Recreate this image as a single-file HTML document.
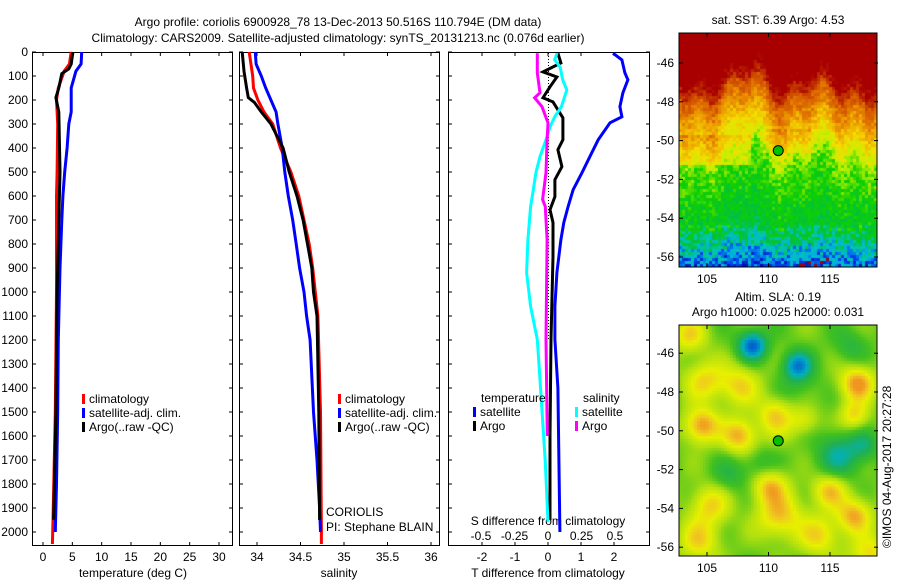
<!DOCTYPE html>
<html><head><meta charset="utf-8">
<style>
body{margin:0;background:#fff;}
#wrap{position:relative;width:900px;height:580px;overflow:hidden;background:#fff;font-family:"Liberation Sans",sans-serif;}
svg text{font-family:"Liberation Sans",sans-serif;font-size:12px;fill:#000;}
canvas{position:absolute;}
</style></head>
<body>
<div id="wrap">
<canvas id="map1" width="198" height="234" style="left:679px;top:33px"></canvas>
<canvas id="map2" width="198" height="231" style="left:679px;top:325px"></canvas>
<svg id="svg" width="900" height="580" style="position:absolute;left:0;top:0"></svg>
</div>
<script>
// ---------- data ----------
const tClimDepth=[0,50,80,150,200,300,500,600,1000,1500,1950,2050];
const tClimVal=[4.8,4.5,3.6,2.6,2.3,2.5,2.4,2.3,2.3,2.1,1.7,1.6];
const tSatDepth=[0,50,80,150,250,300,400,500,600,700,900,1200,1500,1800,2000];
const tSatVal=[6.6,6.5,5.6,4.8,4.8,4.4,4.1,3.7,3.4,3.2,2.9,2.6,2.5,2.3,2.1];
const tArgoDepth=[0,50,70,90,150,190,250,500,700,1000,1500,1750,1950];
const tArgoVal=[5.1,4.8,4.4,3.2,2.7,2.2,2.7,2.9,2.7,2.4,2.2,2.0,1.8];
const sClimDepth=[0,100,150,200,250,300,400,500,600,700,800,900,1000,1100,1500,2000,2050];
const sClimVal=[33.91,33.95,33.96,34.01,34.08,34.18,34.27,34.39,34.48,34.54,34.6,34.64,34.67,34.70,34.73,34.74,34.74];
const sSatDepth=[0,50,100,150,200,250,300,400,500,600,700,800,900,1000,1100,1200,1500,1700,1900,2000];
const sSatVal=[33.98,33.99,34.05,34.1,34.16,34.22,34.24,34.29,34.32,34.36,34.41,34.45,34.49,34.54,34.57,34.61,34.65,34.69,34.72,34.73];
const sArgoDepth=[0,80,150,190,210,250,300,350,400,500,600,700,800,900,1000,1100,1500,1950];
const sArgoVal=[33.83,33.85,33.88,33.9,33.97,34.05,34.16,34.23,34.3,34.37,34.46,34.53,34.58,34.63,34.65,34.69,34.71,34.72];
const dTSatDepth=[5,33,87,116,170,228,270,295,366,436,503,574,644,711,782,919,1060,1198,1400,1700,2000];
const dTSatVal=[1.97,2.24,2.33,2.42,2.27,2.18,2.24,1.88,1.52,1.27,1.03,0.76,0.61,0.48,0.39,0.27,0.21,0.21,0.3,0.33,0.36];
const dTArgoDepth=[5,46,83,104,145,191,208,241,274,366,407,478,532,603,657,711,852,1198,1600,1950];
const dTArgoVal=[0.3,0.39,-0.15,0.27,0.06,-0.15,0.15,0.3,0.45,0.45,0.3,0.42,0.21,0.21,0.06,0.15,0.15,0.09,0.06,0.06];
const dSSatDepth=[5,33,62,116,158,228,270,312,366,436,503,574,644,782,919,1060,1198,1364,1709,1958];
const dSSatVal=[0.067,0.05,0.09,0.11,0.14,0.1,0.05,0.015,-0.015,-0.06,-0.09,-0.11,-0.13,-0.15,-0.16,-0.13,-0.08,-0.06,-0.02,0.0];
const dSArgoDepth=[5,87,170,191,228,295,366,503,615,644,782,1198,1600];
const dSArgoVal=[-0.08,-0.08,-0.06,-0.1,-0.045,0,-0.007,-0.015,-0.04,-0.02,-0.007,-0.015,-0.005];
const depthTicks=[0,100,200,300,400,500,600,700,800,900,1000,1100,1200,1300,1400,1500,1600,1700,1800,1900,2000];
const tTicks=[0,5,10,15,20,25,30];
const sTicks=[34,34.5,35,35.5,36];
const sTickLabels=["34","34.5","35","35.5","36"];
const dTTicks=[-2,-1,0,1,2];
const dSTicks=[-0.5,-0.25,0,0.25,0.5];
const dSTickLabels=["-0.5","-0.25","0","0.25","0.5"];
const latTicks=[-46,-48,-50,-52,-54,-56];
const lonTicks=[105,110,115];
const argoLon=110.794, argoLat=-50.516;

// ---------- axes ----------
const Y=d=>52+d*0.24;
const xT=v=>43+v*(176/30);
const xS=v=>257+(v-34)*87;
const xDT=v=>548+v*33;
const xDS=v=>548+v*134;
const lonX1=l=>707+(l-105)*12.3;
const latY1=l=>63+(-46-l)*19.4;
const latY2=l=>392+(-48-l)*19.4;

const svg=document.getElementById('svg');
const NS='http://www.w3.org/2000/svg';
function mk(tag,at,name,parent){const e=document.createElementNS(NS,tag);for(const k in at)e.setAttribute(k,at[k]);


(parent||svg).appendChild(e);return e;}
function txt(x,y,s,name,anchor){const t=mk('text',{x:x,y:y,'text-anchor':anchor||'start'},name);t.textContent=s;return t;}
function line(x1,y1,x2,y2,name,w,c,dash){const a={x1:x1,y1:y1,x2:x2,y2:y2,stroke:c||'#000','stroke-width':w||1};if(dash)a['stroke-dasharray']=dash;return mk('line',a,name);}

const panels=[[32,232,'temperature-panel'],[239,439,'salinity-panel'],[448,649,'difference-panel']];
panels.forEach(p=>{
  mk('rect',{x:p[0]+0.5,y:52.5,width:p[1]-p[0],height:493,fill:'none',stroke:'#000','stroke-width':1},p[2]+'-frame');
  depthTicks.forEach(d=>{line(p[0],Y(d),p[0]+4,Y(d),'depth-tick');line(p[1]-3,Y(d),p[1]+1,Y(d),'depth-tick');});
});
depthTicks.forEach(d=>txt(28,Y(d)+4,String(d),'depth-tick-label','end'));
tTicks.forEach(v=>{line(xT(v),52,xT(v),56,'x-tick');line(xT(v),542,xT(v),546,'x-tick');txt(xT(v),561,String(v),'temperature-tick-label','middle');});
txt(133,577,'temperature (deg C)','temperature-axis-title','middle');
sTicks.forEach((v,i)=>{line(xS(v),52,xS(v),56,'x-tick');line(xS(v),542,xS(v),546,'x-tick');txt(xS(v),561,sTickLabels[i],'salinity-tick-label','middle');});
txt(339,577,'salinity','salinity-axis-title','middle');
dTTicks.forEach(v=>{line(xDT(v),52,xDT(v),56,'x-tick');line(xDT(v),542,xDT(v),546,'x-tick');txt(xDT(v),561,String(v),'t-diff-tick-label','middle');});
txt(548,577,'T difference from climatology','t-diff-axis-title','middle');
dSTicks.forEach((v,i)=>txt(xDS(v),540,dSTickLabels[i],'s-diff-tick-label','middle'));
txt(548,525,'S difference from climatology','s-diff-axis-title','middle');
line(548.5,53,548.5,340,'zero-line',1,'#000','1,2');

function prof(ds,vs,fx,c,name,w){const pts=ds.map((d,i)=>fx(vs[i]).toFixed(1)+','+Y(d).toFixed(1)).join(' ');
mk('polyline',{points:pts,fill:'none',stroke:c,'stroke-width':w||3},name);}
prof(tClimDepth,tClimVal,xT,'#f00','temp-climatology-line');
prof(tSatDepth,tSatVal,xT,'#00f','temp-satellite-line');
prof(tArgoDepth,tArgoVal,xT,'#000','temp-argo-line');
prof(sClimDepth,sClimVal,xS,'#f00','sal-climatology-line');
prof(sSatDepth,sSatVal,xS,'#00f','sal-satellite-line');
prof(sArgoDepth,sArgoVal,xS,'#000','sal-argo-line');
prof(dTSatDepth,dTSatVal,xDT,'#00f','tdiff-satellite-line');
prof(dTArgoDepth,dTArgoVal,xDT,'#000','tdiff-argo-line');
prof(dSSatDepth,dSSatVal,xDS,'#0ff','sdiff-satellite-line');
prof(dSArgoDepth,dSArgoVal,xDS,'#f0f','sdiff-argo-line');

function leg(x,y,c,s,name){mk('rect',{x:x,y:y-9,width:3,height:10,fill:c},name+'-swatch');txt(x+7,y,s,name);}
[[82,'panel1'],[338,'panel2']].forEach(o=>{
 leg(o[0],403,'#f00','climatology','legend-climatology');
 leg(o[0],417,'#00f','satellite-adj. clim.','legend-satellite');
 leg(o[0],431,'#000','Argo(..raw -QC)','legend-argo');
});
txt(481,402,'temperature','legend-temperature-title');
leg(473,416,'#00f','satellite','legend-t-satellite');
leg(473,430,'#000','Argo','legend-t-argo');
txt(583,402,'salinity','legend-salinity-title');
leg(575,416,'#0ff','satellite','legend-s-satellite');
leg(575,430,'#f0f','Argo','legend-s-argo');
txt(326,516,'CORIOLIS','institution-label');
txt(326,531,'PI: Stephane BLAIN','pi-label');

txt(338,26,'Argo profile: coriolis 6900928_78 13-Dec-2013 50.516S 110.794E (DM data)','main-title','middle');
txt(338,42,'Climatology: CARS2009. Satellite-adjusted climatology: synTS_20131213.nc (0.076d earlier)','subtitle','middle');
txt(778,24,'sat. SST: 6.39 Argo: 4.53','sst-map-title','middle');
txt(778,301,'Altim. SLA: 0.19','sla-map-title','middle');
txt(778,316,'Argo h1000: 0.025 h2000: 0.031','steric-height-title','middle');
const cr=mk('text',{x:0,y:0,transform:'translate(891,548) rotate(-90)'},'copyright-label');cr.textContent='©IMOS 04-Aug-2017 20:27:28';

[[33,267,latY1,'sst'],[325,556,latY2,'sla']].forEach(m=>{
 mk('rect',{x:679,y:m[0],width:198,height:m[1]-m[0],fill:'none',stroke:'#000','stroke-width':1},m[3]+'-map-frame');
 latTicks.forEach(l=>{const y=m[2](l);if(y<m[1]){line(679,y,683,y,'lat-tick');line(874,y,878,y,'lat-tick');txt(674,y+4,String(l),'lat-tick-label','end');}});
 lonTicks.forEach(l=>{const x=lonX1(l);line(x,m[0],x,m[0]+4,'lon-tick');line(x,m[1]-4,x,m[1],'lon-tick');txt(x,m[1]+16,String(l),'lon-tick-label','middle');});
 mk('circle',{cx:lonX1(argoLon),cy:m[2](argoLat),r:5,fill:'#00c000',stroke:'#000','stroke-width':1},'argo-position-marker');
});

// ---------- map imagery ----------
function hash(a,b){let h=(a*374761393+b*668265263)|0;h=(h^(h>>>13))*1274126177|0;return ((h^(h>>>16))>>>0)/4294967296;}
function cmap(stops,v){if(v<=stops[0][0])return stops[0][1];for(let i=1;i<stops.length;i++){if(v<=stops[i][0]){const a=stops[i-1],b=stops[i];const t=(v-a[0])/(b[0]-a[0]);return a[1].map((c,k)=>Math.round(c+(b[1][k]-c)*t));}}return stops[stops.length-1][1];}
const sstStops=[[2.5,[0,0,160]],[3.2,[0,64,240]],[3.7,[0,176,224]],[4.2,[0,200,170]],[4.7,[0,192,64]],[5.3,[16,208,0]],[5.9,[192,240,0]],[6.4,[240,224,0]],[7.0,[240,176,0]],[7.6,[224,112,0]],[8.3,[200,64,0]],[9.0,[168,0,0]]];
(function(){const c=document.getElementById('map1').getContext('2d');const cs=3;
for(let j=0;j<78;j++)for(let i=0;i<66;i++){const x=i*cs,y=j*cs;
 const f=58+10*Math.sin(x/13)+7*Math.sin(x/5+1)-12*Math.exp(-Math.pow((x-75)/15,2))+8*Math.exp(-Math.pow((x-155)/12,2));
 let v;
 if(y<f-25) v=9.5;
 else if(y<f) v=9.5-(y-f+25)*0.045;
 else if(y<f+70) v=8.0-(y-f)*0.035;
 else { const g=y-f-70; v=5.55-g*0.01-(y>190?(y-190)*0.03:0); }
 if(y>100&&y<130&&x<70) v+=0.5;
 if(y>95&&y<120&&x>80&&x<130) v+=0.3;
 v+=(hash(i,j)-0.5)*(y>190?1.4:0.7);
 if(y>222&&x>118&&x<150&&hash(j,i)>0.75) v=9;
 const col=cmap(sstStops,v);c.fillStyle='rgb('+col+')';c.fillRect(x,y,cs,cs);}
})();
const slaStops=[[0,[0,96,208]],[0.2,[0,176,192]],[0.35,[32,176,80]],[0.5,[64,192,32]],[0.65,[176,224,16]],[0.8,[232,240,0]],[0.9,[240,200,32]],[1,[240,150,32]]];
const blobs=[[73,20,10,-0.55],[118,40,10,-0.45],[25,55,14,0.3],[60,60,14,0.3],[95,88,12,0.25],[125,95,10,0.2],[178,58,12,0.45],[175,90,10,0.3],[22,100,12,0.45],[60,110,12,0.4],[100,100,14,0.1],[30,180,14,0.3],[90,160,12,0.35],[100,190,16,0.35],[150,165,12,0.35],[175,190,12,0.4],[140,210,14,0.3],[20,215,14,0.3],[160,130,16,-0.3],[185,120,10,-0.2],[80,140,12,-0.15],[120,60,14,-0.1],[50,150,12,-0.15],[170,20,12,-0.15],[190,230,14,0.3],[10,10,12,0.3]];
(function(){const c=document.getElementById('map2').getContext('2d');const cs=3;
for(let j=0;j<77;j++)for(let i=0;i<66;i++){const x=i*cs+1,y=j*cs+1;let v=0.56;
 blobs.forEach(b=>{v+=b[3]*Math.exp(-((x-b[0])*(x-b[0])+(y-b[1])*(y-b[1]))/(2*b[2]*b[2]));});
 v+=0.06*Math.sin(x/9)*Math.cos(y/11);
 const col=cmap(slaStops,v);c.fillStyle='rgb('+col+')';c.fillRect(i*cs,j*cs,cs,cs);}
})();
</script>
</body></html>
